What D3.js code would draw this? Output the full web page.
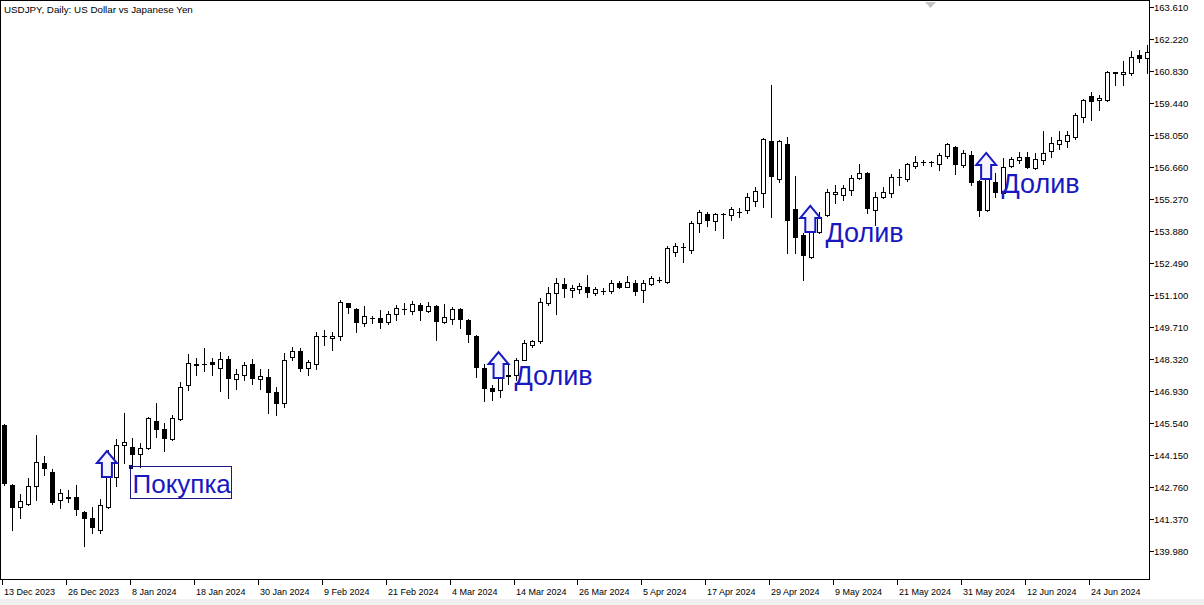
<!DOCTYPE html>
<html><head><meta charset="utf-8">
<script src="https://cdn.jsdelivr.net/npm/d3@7"></script>
<style>body{margin:0;background:#fff;} svg{display:block;}</style>
</head><body>
<svg id="c" width="1204" height="605"></svg>
<script>
const symbolTitle = "USDJPY, Daily:  US Dollar vs Japanese Yen";

const open = [145.45,142.85,141.89,142.02,142.80,143.80,143.41,142.19,142.32,142.32,141.67,141.41,140.89,141.89,143.19,144.58,144.50,144.19,144.45,145.63,
145.28,144.84,145.71,147.19,148.08,148.10,148.19,147.93,148.32,147.45,147.62,148.10,147.45,147.54,146.89,146.41,148.41,148.67,147.93,148.10,
149.30,149.23,149.32,150.75,150.49,149.88,150.12,150.10,149.93,150.27,150.49,150.40,150.67,150.40,150.62,149.93,150.06,150.49,150.01,149.32,
147.93,147.06,146.97,147.60,147.62,148.28,148.93,149.10,150.75,151.19,151.58,151.32,151.36,151.45,151.19,151.26,151.27,151.62,151.45,151.62,
151.32,151.58,151.74,151.66,152.97,153.17,153.05,154.23,154.62,154.31,154.61,154.57,154.69,154.79,155.18,155.53,157.79,156.14,157.66,154.83,
153.71,152.75,153.84,154.57,155.49,155.44,155.66,156.18,156.40,154.79,155.36,155.53,156.22,156.14,156.70,156.87,156.88,156.79,157.14,157.53,
156.75,157.18,156.05,154.79,156.01,155.53,156.70,156.96,157.09,156.62,156.96,157.35,157.66,157.79,157.96,158.83,159.74,159.57,159.57,160.76,
160.70,160.74,161.52,161.39];
const high = [145.50,142.90,142.45,143.15,145.02,144.11,143.54,142.67,142.63,142.85,141.70,141.89,142.24,144.37,144.84,145.97,144.89,144.67,145.80,146.41,
145.54,145.89,147.32,148.54,148.36,148.80,148.36,148.62,148.45,147.88,148.19,148.32,147.88,147.88,147.10,148.58,148.84,148.80,148.28,149.49,
149.58,149.49,150.88,150.75,150.53,150.62,150.19,150.45,150.40,150.67,150.75,150.84,150.75,150.80,150.67,150.71,150.58,150.53,150.06,149.36,
148.10,147.19,148.15,148.15,148.36,149.14,149.14,150.97,151.45,151.84,151.84,151.53,151.62,151.97,151.45,151.40,151.75,151.71,151.92,151.75,
151.75,151.92,151.88,153.23,153.36,153.36,154.31,154.79,154.70,154.66,154.66,154.92,154.88,155.53,155.79,157.92,160.22,157.83,157.96,156.27,
153.79,153.92,154.70,155.70,155.88,155.88,156.31,156.79,156.44,155.57,155.79,156.36,156.57,156.83,157.14,156.96,156.92,157.27,157.70,157.57,
157.40,157.35,156.09,156.18,156.40,157.05,157.09,157.31,157.31,157.27,158.22,157.96,158.22,158.22,159.01,159.61,159.92,159.79,160.83,160.79,
161.26,161.70,161.74,161.96];
const low = [142.85,140.89,141.41,141.98,142.19,143.28,142.02,141.85,142.11,141.54,140.20,140.76,140.76,141.85,142.80,143.80,143.67,143.63,144.40,144.93,
144.32,144.80,145.67,146.97,147.62,147.80,147.62,146.93,146.63,147.02,147.41,147.23,147.02,145.97,145.89,146.23,148.28,147.80,147.62,147.88,
148.93,148.71,149.14,150.32,149.49,149.75,149.88,149.67,149.84,150.01,150.27,150.27,150.01,150.36,149.14,149.88,149.84,149.67,149.06,147.54,
146.50,146.54,146.67,147.23,147.41,148.28,148.84,149.01,150.67,150.27,151.01,151.01,151.19,151.01,151.10,151.14,151.19,151.40,151.45,151.10,
150.80,151.53,151.66,151.62,152.79,152.53,152.92,153.84,154.10,153.92,153.58,154.36,154.49,154.66,154.97,154.92,154.49,156.01,152.92,152.92,
151.75,152.71,153.79,154.53,155.10,155.23,155.44,156.14,154.66,154.14,155.31,155.36,155.88,156.05,156.62,156.75,156.70,156.53,157.05,156.36,
156.66,155.88,154.53,154.75,155.36,155.49,156.66,156.83,156.62,156.57,156.79,157.09,157.44,157.53,157.88,158.61,158.70,159.14,159.53,160.22,
160.22,160.66,161.22,160.74];
const close = [142.93,141.89,142.15,142.80,143.84,143.58,142.11,142.50,142.30,141.80,141.41,141.02,141.98,143.71,144.58,144.71,144.19,144.45,145.76,145.28,
144.89,145.76,147.10,148.15,148.12,148.12,148.10,148.32,147.49,147.67,148.06,147.49,147.58,146.89,146.41,148.28,148.67,147.93,148.19,149.32,
149.32,149.32,150.80,150.58,149.93,150.19,150.10,149.93,150.27,150.53,150.51,150.71,150.45,150.62,149.97,150.14,150.49,150.06,149.41,147.97,
147.06,146.93,147.62,147.62,148.28,149.01,149.10,150.80,151.19,151.62,151.40,151.40,151.49,151.23,151.36,151.28,151.62,151.45,151.66,151.27,
151.62,151.84,151.76,153.14,153.23,153.19,154.23,154.70,154.36,154.62,154.63,154.83,154.71,155.36,155.62,157.88,156.27,157.79,154.36,153.62,
152.84,153.84,154.49,155.57,155.57,155.75,156.18,156.40,154.88,155.36,155.57,156.23,156.24,156.79,156.88,156.89,156.86,157.18,157.66,156.79,
157.27,156.01,154.79,156.14,155.57,156.66,157.01,157.09,156.66,157.01,157.27,157.70,157.83,158.05,158.92,159.57,159.53,159.66,160.79,160.78,
160.79,161.44,161.39,161.66];

const dateLabels = ["13 Dec 2023","26 Dec 2023","8 Jan 2024","18 Jan 2024","30 Jan 2024","9 Feb 2024","21 Feb 2024","4 Mar 2024","14 Mar 2024",
"26 Mar 2024","5 Apr 2024","17 Apr 2024","29 Apr 2024","9 May 2024","21 May 2024","31 May 2024","12 Jun 2024","24 Jun 2024"];
const dateLabelBars = [0,8,16,24,32,40,48,56,64,72,80,88,96,104,112,120,128,136];
const priceTicks = [163.610,162.220,160.830,159.440,158.050,156.660,155.270,153.880,152.490,151.100,149.710,148.320,146.930,145.540,144.150,142.760,141.370,139.980];

const arrowBars = [13,62,101,123];
const arrowPrices = [144.32,148.62,154.97,157.27];
const noteTexts = ["Покупка","Долив","Долив","Долив"];
const noteBars = [16,64,103,125];
const notePrices = [143.67,148.41,154.62,156.75];

const W = 1204, H = 605;
const plotR = 1149, plotB = 579;
const svg = d3.select("#c");
const x = d3.scaleLinear().domain([0, open.length - 1]).range([4, 1147]);
const y = d3.scaleLinear().domain([139.98, 163.61]).range([551, 7]);
const blue = "#1818c0";

svg.append("rect").attr("x",0).attr("y",0).attr("width",W).attr("height",H).attr("fill","#fff");
svg.append("rect").attr("x",0).attr("y",599).attr("width",W).attr("height",6).attr("fill","#f0f0f0");

svg.append("defs").append("clipPath").attr("id","plot").append("rect")
  .attr("x",1).attr("y",1).attr("width",plotR-1).attr("height",plotB-1);

const g = svg.append("g").attr("clip-path","url(#plot)").attr("shape-rendering","crispEdges");
const idx = d3.range(open.length);
const cxOf = i => Math.round(x(i)) + 0.5;

g.selectAll("line.wick").data(idx).join("line").attr("class","wick")
  .attr("x1", cxOf).attr("x2", cxOf)
  .attr("y1", i => Math.round(y(high[i]))).attr("y2", i => Math.round(y(low[i])) + 1)
  .attr("stroke","#000").attr("stroke-width",1);

idx.forEach(i => {
  const cx = cxOf(i);
  const yo = Math.round(y(open[i])), yc = Math.round(y(close[i]));
  const top = Math.min(yo, yc), bot = Math.max(yo, yc);
  if (bot - top < 1) {
    g.append("line").attr("x1", cx - 2.5).attr("x2", cx + 2.5)
      .attr("y1", top + 0.5).attr("y2", top + 0.5).attr("stroke","#000");
  } else {
    g.append("rect").attr("x", cx - 2).attr("y", top + 0.5)
      .attr("width", 4).attr("height", bot - top)
      .attr("fill", close[i] >= open[i] ? "#fff" : "#000")
      .attr("stroke","#000").attr("stroke-width",1);
  }
});

// arrows
arrowBars.forEach((b, k) => {
  const cx = x(b) - 1;
  const ty = y(arrowPrices[k]);
  const pts = [[cx, ty],[cx + 10, ty + 12],[cx + 5, ty + 12],[cx + 5, ty + 26],[cx - 5, ty + 26],[cx - 5, ty + 12],[cx - 10, ty + 12]];
  g.append("polygon").attr("points", pts.map(p => p.join(",")).join(" "))
    .attr("fill","#f4f4ff").attr("stroke", blue).attr("stroke-width",2)
    .attr("stroke-linejoin","miter").attr("shape-rendering","auto");
});

// notes
noteTexts.forEach((t, k) => {
  const ax = Math.round(x(noteBars[k])) - 1.5;
  const ay = Math.round(y(notePrices[k])) + 0.5;
  const fs = k === 0 ? 26 : 27;
  g.append("text").attr("x", ax + (k === 0 ? 2 : 0)).attr("y", ay + (k === 0 ? 26 : 27))
    .attr("font-family","'Liberation Sans', Arial, sans-serif").attr("font-size", fs)
    .attr("fill", blue).text(t);
  if (k === 0) {
    g.append("rect").attr("x", ax).attr("y", ay).attr("width", 101).attr("height", 32)
      .attr("fill","none").attr("stroke","#1a1a80").attr("stroke-width",1);
    g.append("rect").attr("x", ax - 1.5).attr("y", ay - 1.5).attr("width", 4).attr("height", 4).attr("fill","#10106a");
  }
});

// frame
svg.append("rect").attr("x",0.5).attr("y",0.5).attr("width",plotR).attr("height",plotB)
  .attr("fill","none").attr("stroke","#000").attr("shape-rendering","crispEdges");

// scroll marker triangle
svg.append("polygon").attr("points","925,2 936,2 930.5,8").attr("fill","#c4c4c4");

// title
svg.append("text").attr("x",4).attr("y",13).attr("font-family","'Liberation Sans', Arial, sans-serif")
  .attr("font-size",9.8).attr("fill","#000").text(symbolTitle);

// price axis
const pa = svg.append("g").attr("shape-rendering","crispEdges");
priceTicks.forEach(p => {
  const yy = Math.round(y(p)) + 0.5;
  pa.append("line").attr("x1", plotR + 0.5).attr("x2", plotR + 4.5).attr("y1", yy).attr("y2", yy).attr("stroke","#000");
  pa.append("text").attr("x", plotR + 5).attr("y", yy + 3.5)
    .attr("font-family","'Liberation Sans', Arial, sans-serif").attr("font-size",9.5).attr("fill","#000")
    .text(p.toFixed(3));
});

// time axis
dateLabels.forEach((d, k) => {
  const tx = Math.round(x(dateLabelBars[k])) - 1.5;
  pa.append("line").attr("x1", tx).attr("x2", tx).attr("y1", plotB + 0.5).attr("y2", plotB + 6).attr("stroke","#000");
  pa.append("text").attr("x", tx + 1.5).attr("y", 595)
    .attr("font-family","'Liberation Sans', Arial, sans-serif").attr("font-size",9).attr("fill","#000")
    .text(d);
});
</script>
</body></html>
